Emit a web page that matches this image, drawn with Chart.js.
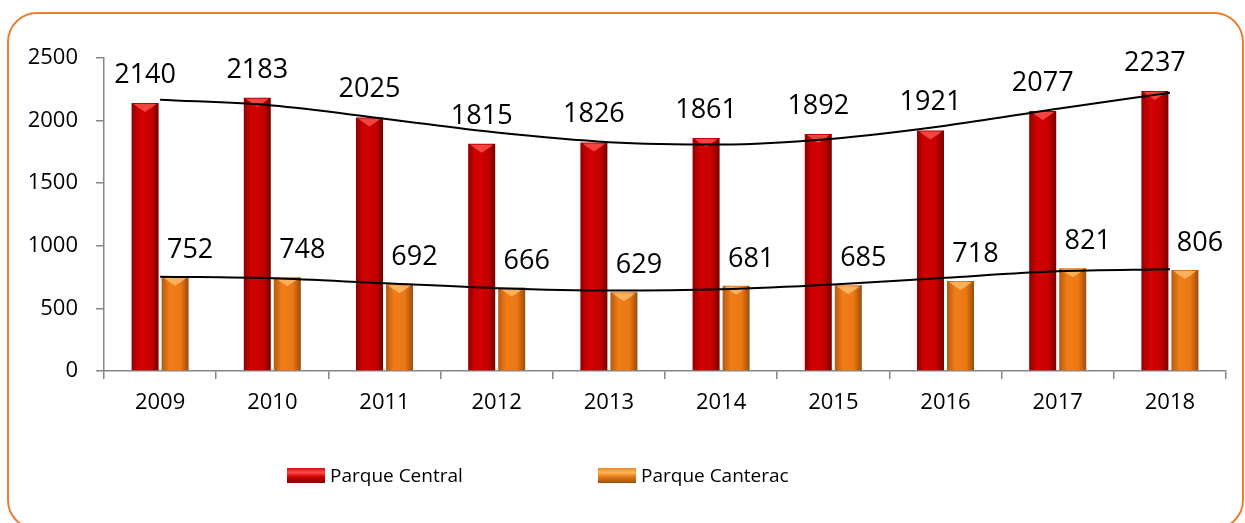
<!DOCTYPE html>
<html>
<head>
<meta charset="utf-8">
<script src="https://cdn.jsdelivr.net/npm/chart.js@4.4.1/dist/chart.umd.min.js"></script>
<style>
  html, body { margin: 0; padding: 0; background: #fff; }
  #wrap { position: relative; width: 1245px; height: 523px; overflow: hidden; }
  #frame { position: absolute; left: 7px; top: 12px; width: 1237px; height: 518px; border: 2px solid #ED7D31; border-radius: 30px; box-sizing: border-box; pointer-events: none; }
  canvas { position: absolute; left: 0; top: 0; }
</style>
</head>
<body>
<div id="wrap">
  <canvas id="chart" width="1245" height="523"></canvas>
  <div id="frame"></div>
</div>
<script>
/* ---------- data ---------- */
const years = ["2009", "2010", "2011", "2012", "2013", "2014", "2015", "2016", "2017", "2018"];
const parqueCentral = [2140, 2183, 2025, 1815, 1826, 1861, 1892, 1921, 2077, 2237];
const parqueCanterac = [752, 748, 692, 666, 629, 681, 685, 718, 821, 806];
const seriesNames = ["Parque Central", "Parque Canterac"];
const yTicks = [0, 500, 1000, 1500, 2000, 2500];

/* ---------- styles ---------- */
const FONT = '"Open Sans", "DejaVu Sans", sans-serif';
const redStops = ["#930000", "#d20000", "#c80000", "#780000"];
const orangeStops = ["#b65a10", "#f17d18", "#ec7814", "#9c4c0c"];
const bevelColors = ["rgba(255,90,90,0.75)", "rgba(255,190,110,0.8)"];
const labelShift = [{ dx: 0, dy: 20 }, { dx: 15, dy: 19 }];
const TREND_ORDER = 4;

/* ---------- polynomial trendline (least squares, like Excel) ---------- */
function polyTrend(values, order) {
  const n = values.length, m = order + 1;
  const xs = values.map((_, i) => i - (n - 1) / 2);
  const A = [], b = [];
  for (let r = 0; r < m; r++) {
    A.push([]);
    for (let c = 0; c < m; c++) {
      let s = 0;
      for (let i = 0; i < n; i++) s += Math.pow(xs[i], r + c);
      A[r].push(s);
    }
    let s = 0;
    for (let i = 0; i < n; i++) s += values[i] * Math.pow(xs[i], r);
    b.push(s);
  }
  for (let k = 0; k < m; k++) {
    for (let r = k + 1; r < m; r++) {
      const f = A[r][k] / A[k][k];
      for (let c = k; c < m; c++) A[r][c] -= f * A[k][c];
      b[r] -= f * b[k];
    }
  }
  const coef = new Array(m).fill(0);
  for (let k = m - 1; k >= 0; k--) {
    let s = b[k];
    for (let c = k + 1; c < m; c++) s -= A[k][c] * coef[c];
    coef[k] = s / A[k][k];
  }
  return xs.map(x => coef.reduce((acc, a, p) => acc + a * Math.pow(x, p), 0));
}

/* ---------- bar gradient ---------- */
const barGradient = (stops) => (context) => {
  const el = context.element;
  if (!el || el.x == null || !el.width) return stops[1];
  const g = context.chart.ctx.createLinearGradient(el.x - el.width / 2, 0, el.x + el.width / 2, 0);
  g.addColorStop(0, stops[0]);
  g.addColorStop(0.3, stops[1]);
  g.addColorStop(0.7, stops[2]);
  g.addColorStop(1, stops[3]);
  return g;
};

/* ---------- bevel on bar tops + value labels ---------- */
const barLabels = {
  id: "barLabels",
  afterDatasetDraw(chart, args) {
    const di = args.index;
    if (di > 1) return;
    const ctx = chart.ctx;
    ctx.save();
    ctx.fillStyle = bevelColors[di];
    args.meta.data.forEach(bar => {
      const l = bar.x - bar.width / 2 + 2, r = bar.x + bar.width / 2 - 2;
      ctx.beginPath();
      ctx.moveTo(l, bar.y + 1);
      ctx.lineTo(r, bar.y + 1);
      ctx.lineTo(r - 4, bar.y + 4);
      ctx.lineTo(bar.x, bar.y + 9);
      ctx.lineTo(l + 4, bar.y + 4);
      ctx.closePath();
      ctx.fill();
    });
    ctx.restore();
  },
  afterDatasetsDraw(chart) {
    const ctx = chart.ctx;
    ctx.save();
    ctx.font = "27px " + FONT;
    ctx.fillStyle = "#000";
    ctx.textAlign = "center";
    ctx.textBaseline = "alphabetic";
    [0, 1].forEach(di => {
      const meta = chart.getDatasetMeta(di);
      meta.data.forEach((bar, i) => {
        ctx.fillText(chart.data.datasets[di].data[i], bar.x + labelShift[di].dx, bar.y - labelShift[di].dy);
      });
    });
    ctx.restore();
  }
};

/* ---------- legend ---------- */
const bottomLegend = {
  id: "bottomLegend",
  afterDraw(chart) {
    const ctx = chart.ctx;
    const xs = [287, 598];
    const y = 468, bw = 38, bh = 15;
    const tones = [["#d01010", "#ff4848", "#c80000", "#8a0000"], ["#e88a30", "#ffb450", "#e07818", "#9c520e"]];
    ctx.save();
    ctx.font = "19px " + FONT;
    ctx.textBaseline = "middle";
    seriesNames.forEach((name, i) => {
      const g = ctx.createLinearGradient(0, y, 0, y + bh);
      g.addColorStop(0, tones[i][0]);
      g.addColorStop(0.3, tones[i][1]);
      g.addColorStop(0.6, tones[i][2]);
      g.addColorStop(1, tones[i][3]);
      ctx.fillStyle = g;
      ctx.fillRect(xs[i], y, bw, bh);
      ctx.fillStyle = "#000";
      ctx.fillText(name, xs[i] + bw + 5, y + bh / 2 + 1);
    });
    ctx.restore();
  }
};

/* ---------- chart ---------- */
const axisGray = "#868686";
const chart = new Chart(document.getElementById("chart"), {
  data: {
    labels: years,
    datasets: [
      {
        type: "bar",
        label: seriesNames[0],
        data: parqueCentral,
        backgroundColor: barGradient(redStops),
        categoryPercentage: 0.535,
        barPercentage: 0.9,
        order: 1
      },
      {
        type: "bar",
        label: seriesNames[1],
        data: parqueCanterac,
        backgroundColor: barGradient(orangeStops),
        categoryPercentage: 0.535,
        barPercentage: 0.9,
        order: 1
      },
      {
        type: "line",
        label: "trend central",
        data: polyTrend(parqueCentral, TREND_ORDER),
        borderColor: "#000",
        borderWidth: 2,
        pointRadius: 0,
        cubicInterpolationMode: "monotone",
        order: 0
      },
      {
        type: "line",
        label: "trend canterac",
        data: polyTrend(parqueCanterac, TREND_ORDER),
        borderColor: "#000",
        borderWidth: 2,
        pointRadius: 0,
        cubicInterpolationMode: "monotone",
        order: 0
      }
    ]
  },
  options: {
    responsive: false,
    animation: false,
    layout: { padding: { top: 58, right: 19, bottom: 92, left: 0 } },
    plugins: {
      legend: { display: false },
      tooltip: { enabled: false }
    },
    scales: {
      x: {
        grid: { display: true, offset: true, drawOnChartArea: false, tickLength: 8, color: axisGray, lineWidth: 1.5 },
        border: { color: axisGray, width: 1.5 },
        ticks: { color: "#000", font: { family: FONT, size: 22 }, padding: 11, maxRotation: 0 },
        afterFit: (scale) => { scale.height = 60; }
      },
      y: {
        min: yTicks[0],
        max: yTicks[yTicks.length - 1],
        afterBuildTicks: (scale) => { scale.ticks = yTicks.map(v => ({ value: v })); },
        grid: { display: true, drawOnChartArea: false, tickLength: 8, color: axisGray, lineWidth: 1.5 },
        border: { color: axisGray, width: 1.5 },
        ticks: { color: "#000", font: { family: FONT, size: 22 }, padding: 18, callback: (v) => String(v) },
        afterFit: (scale) => { scale.width = 104; }
      }
    }
  },
  plugins: [barLabels, bottomLegend]
});
// second pass so the bar gradients know where each bar sits
chart.update();
</script>
</body>
</html>
